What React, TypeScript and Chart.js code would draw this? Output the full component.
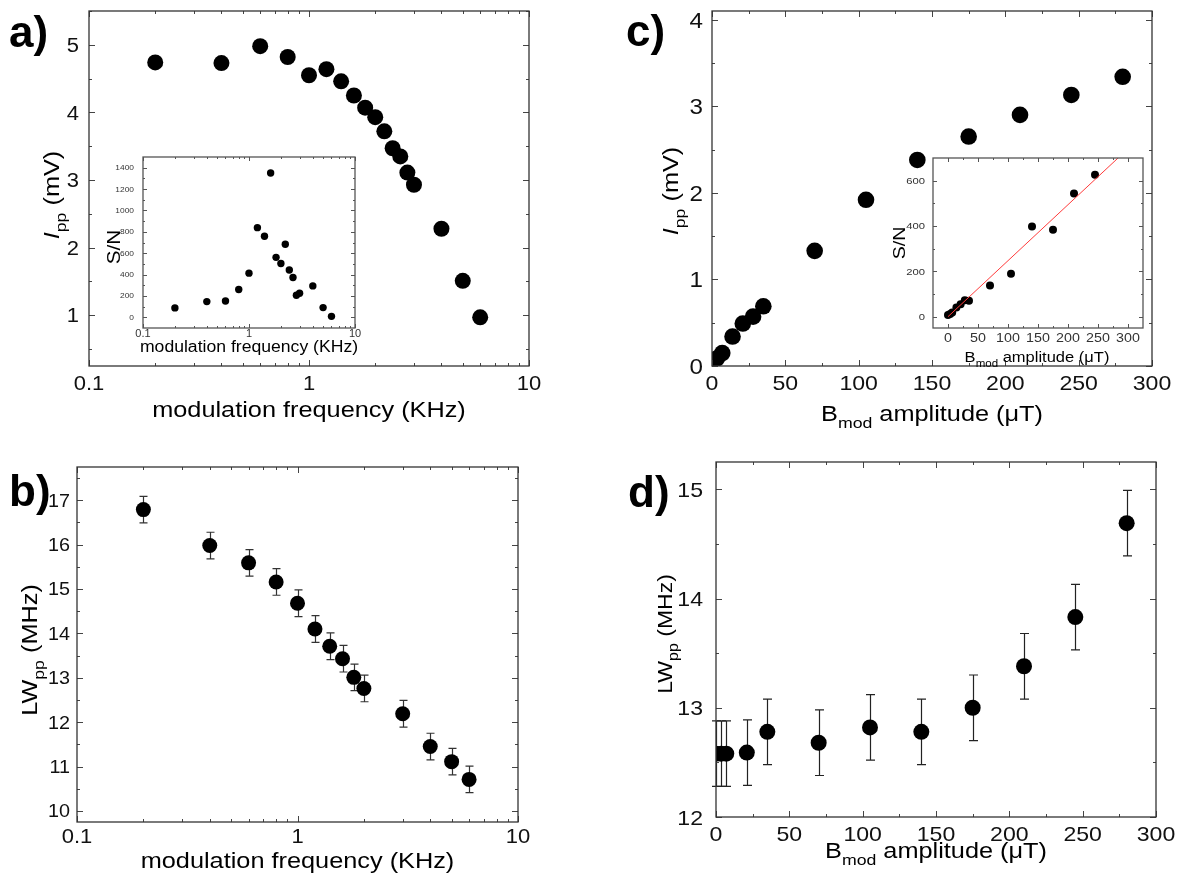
import React, { useEffect, useRef } from 'react';
import { Chart, registerables } from 'chart.js';
Chart.register(...registerables);

// ---------------- data ----------------
// panel a: peak-to-peak intensity vs modulation frequency
const freqKHz = [0.2, 0.4, 0.6, 0.8, 1.0, 1.2, 1.4, 1.6, 1.8, 2.0, 2.2, 2.4, 2.6, 2.8, 3.0, 4, 5, 6];
const ippVsFreq = [4.74, 4.73, 4.98, 4.82, 4.55, 4.64, 4.46, 4.25, 4.07, 3.93, 3.72, 3.47, 3.35, 3.11, 2.93, 2.28, 1.51, 0.97];
// panel a inset: S/N vs modulation frequency
const snVsFreq = [88, 147, 153, 260, 413, 839, 758, 1350, 561, 504, 683, 442, 373, 207, 225, 294, 91, 9];
// panel b: linewidth vs modulation frequency
const lwFreqKHz = [0.2, 0.4, 0.6, 0.8, 1.0, 1.2, 1.4, 1.6, 1.8, 2.0, 3.0, 4, 5, 6];
const lwVsFreq = [16.79, 15.98, 15.59, 15.16, 14.68, 14.1, 13.71, 13.43, 13.01, 12.76, 12.19, 11.45, 11.11, 10.71];
const lwVsFreqErr = [0.3, 0.3, 0.3, 0.3, 0.3, 0.3, 0.3, 0.3, 0.3, 0.3, 0.3, 0.3, 0.3, 0.3];
// panel c: intensity vs B_mod amplitude
const bmodC = [0, 3.5, 7, 14, 21, 28, 35, 70, 105, 140, 175, 210, 245, 280];
const ippVsBmod = [0.03, 0.09, 0.15, 0.34, 0.49, 0.57, 0.69, 1.33, 1.92, 2.38, 2.65, 2.9, 3.13, 3.34];
// panel c inset: S/N vs B_mod amplitude + linear fit
const bmodSN = [0, 3.5, 7, 14, 21, 28, 35, 70, 105, 140, 175, 210, 245];
const snVsBmod = [7, 12, 18, 40, 55, 72, 70, 138, 189, 398, 383, 543, 626];
const fitX = [0, 300];
const fitY = [0, 741];
// panel d: linewidth vs B_mod amplitude
const bmodD = [0, 3.5, 7, 21, 35, 70, 105, 140, 175, 210, 245, 280];
const lwVsBmod = [12.58, 12.58, 12.58, 12.59, 12.78, 12.68, 12.82, 12.78, 13.0, 13.38, 13.83, 14.69];
const lwVsBmodErr = [0.3, 0.3, 0.3, 0.3, 0.3, 0.3, 0.3, 0.3, 0.3, 0.3, 0.3, 0.3];

// tick values
const logMajor = [0.1, 1, 10];
const logMinor = [0.2, 0.3, 0.4, 0.5, 0.6, 0.7, 0.8, 0.9, 2, 3, 4, 5, 6, 7, 8, 9];
const aYMajor = [1, 2, 3, 4, 5];
const aYMinor = [0.5, 1.5, 2.5, 3.5, 4.5, 5.5];
const aInsetYMajor = [0, 200, 400, 600, 800, 1000, 1200, 1400];
const aInsetYMinor = [100, 300, 500, 700, 900, 1100, 1300];
const bYMajor = [10, 11, 12, 13, 14, 15, 16, 17];
const bYMinor = [10.5, 11.5, 12.5, 13.5, 14.5, 15.5, 16.5, 17.5];
const bmodMajor = [0, 50, 100, 150, 200, 250, 300];
const bmodMinor = [25, 75, 125, 175, 225, 275];
const cYMajor = [0, 1, 2, 3, 4];
const cYMinor = [0.5, 1.5, 2.5, 3.5];
const cInsetYMajor = [0, 200, 400, 600];
const cInsetYMinor = [100, 300, 500];
const dYMajor = [12, 13, 14, 15];
const dYMinor = [12.5, 13.5, 14.5];

// ---------------- drawing helpers ----------------
const PW = 1179;
const PH = 879;
const FONT = "'Liberation Sans', Arial, Helvetica, sans-serif";

type Seg = { t: string; it?: boolean; sub?: boolean; bold?: boolean };
type TextSpec = { segs: Seg[]; size: number; x: number; y: number; rotate?: boolean; align?: 'left' | 'center'; stretch?: number; color?: string };
type AxisSpec = {
  type: 'linear' | 'logarithmic';
  min: number; max: number;
  major: number[]; minor: number[];
  font: number; pos: number; color: string; stretch: number;
};
type ErrSpec = { xs: number[]; ys: number[]; err: number[]; cap: number; color: string; width: number };
type PanelSpec = {
  plot: [number, number, number, number];
  x: AxisSpec; y: AxisSpec;
  datasets: any[];
  errors?: ErrSpec;
  texts: TextSpec[];
  fill?: boolean;
  frame: string; tickColor: string; majorLen: number; minorLen: number;
};

const segFont = (s: Seg, size: number) =>
  `${s.it ? 'italic ' : ''}${s.bold ? 'bold ' : ''}${s.sub ? size * 0.7 : size}px ${FONT}`;

function drawRich(ctx: CanvasRenderingContext2D, t: TextSpec) {
  ctx.save();
  const widths: number[] = [];
  let w = 0;
  for (const s of t.segs) {
    ctx.font = segFont(s, t.size);
    const m = ctx.measureText(s.t).width;
    widths.push(m);
    w += m;
  }
  ctx.translate(t.x, t.y);
  if (t.rotate) ctx.rotate(-Math.PI / 2);
  ctx.scale(t.stretch ?? 1.15, 1);
  let cur = t.align === 'left' ? 0 : -w / 2;
  ctx.fillStyle = t.color ?? '#000';
  ctx.textBaseline = 'alphabetic';
  ctx.textAlign = 'left';
  t.segs.forEach((s, i) => {
    ctx.font = segFont(s, t.size);
    ctx.fillText(s.t, cur, s.sub ? t.size * 0.3 : 0);
    cur += widths[i];
  });
  ctx.restore();
}

function drawLabel(ctx: CanvasRenderingContext2D, text: string, x: number, y: number, size: number, align: 'center' | 'right', stretch: number, color: string) {
  ctx.save();
  ctx.font = `${size}px ${FONT}`;
  const w = ctx.measureText(text).width * stretch;
  ctx.translate(align === 'right' ? x - w : x - w / 2, y);
  ctx.scale(stretch, 1);
  ctx.fillStyle = color;
  ctx.textAlign = 'left';
  ctx.textBaseline = 'alphabetic';
  ctx.fillText(text, 0, 0);
  ctx.restore();
}

function makePlugin(spec: PanelSpec) {
  return {
    id: 'panelDeco',
    beforeDraw(chart: any) {
      if (!spec.fill) return;
      const a = chart.chartArea;
      const ctx = chart.ctx;
      ctx.save();
      ctx.fillStyle = '#fff';
      ctx.fillRect(a.left, a.top, a.right - a.left, a.bottom - a.top);
      ctx.restore();
    },
    beforeDatasetsDraw(chart: any) {
      const e = spec.errors;
      if (!e) return;
      const xs = chart.scales.x;
      const ys = chart.scales.y;
      const ctx = chart.ctx;
      ctx.save();
      ctx.strokeStyle = e.color;
      ctx.lineWidth = e.width;
      e.xs.forEach((xv, i) => {
        const px = Math.round(xs.getPixelForValue(xv)) + 0.5;
        const p1 = ys.getPixelForValue(e.ys[i] + e.err[i]);
        const p2 = ys.getPixelForValue(e.ys[i] - e.err[i]);
        ctx.beginPath();
        ctx.moveTo(px, p1); ctx.lineTo(px, p2);
        ctx.moveTo(px - e.cap, p1); ctx.lineTo(px + e.cap, p1);
        ctx.moveTo(px - e.cap, p2); ctx.lineTo(px + e.cap, p2);
        ctx.stroke();
      });
      ctx.restore();
    },
    afterDraw(chart: any) {
      const ctx: CanvasRenderingContext2D = chart.ctx;
      const a = chart.chartArea;
      const xs = chart.scales.x;
      const ys = chart.scales.y;
      ctx.save();
      // ticks, inward on all four sides
      ctx.strokeStyle = spec.tickColor;
      ctx.lineWidth = 1;
      ctx.beginPath();
      const xt = (vals: number[], len: number) => vals.forEach(v => {
        const px = Math.round(xs.getPixelForValue(v)) + 0.5;
        ctx.moveTo(px, a.bottom); ctx.lineTo(px, a.bottom - len);
        ctx.moveTo(px, a.top); ctx.lineTo(px, a.top + len);
      });
      const yt = (vals: number[], len: number) => vals.forEach(v => {
        const py = Math.round(ys.getPixelForValue(v)) + 0.5;
        ctx.moveTo(a.left, py); ctx.lineTo(a.left + len, py);
        ctx.moveTo(a.right, py); ctx.lineTo(a.right - len, py);
      });
      xt(spec.x.major, spec.majorLen);
      xt(spec.x.minor, spec.minorLen);
      yt(spec.y.major, spec.majorLen);
      yt(spec.y.minor, spec.minorLen);
      ctx.stroke();
      // frame
      ctx.strokeStyle = spec.frame;
      ctx.lineWidth = 1.3;
      ctx.strokeRect(a.left, a.top, a.right - a.left, a.bottom - a.top);
      ctx.restore();
      // tick labels from the scales' ticks
      xs.ticks.forEach((t: any) => {
        drawLabel(ctx, String(t.value), xs.getPixelForValue(t.value), spec.x.pos, spec.x.font, 'center', spec.x.stretch, spec.x.color);
      });
      ys.ticks.forEach((t: any) => {
        const py = ys.getPixelForValue(t.value) + spec.y.font * 0.358;
        drawLabel(ctx, String(t.value), spec.y.pos, py, spec.y.font, 'right', spec.y.stretch, spec.y.color);
      });
      spec.texts.forEach(t => drawRich(ctx, t));
    },
  };
}

function axisOpts(ax: AxisSpec) {
  return {
    type: ax.type,
    min: ax.min,
    max: ax.max,
    bounds: 'data',
    grid: { display: false, drawTicks: false, tickLength: 0 },
    border: { display: false },
    ticks: { display: false, padding: 0 },
    title: { display: false },
    afterBuildTicks: (s: any) => { s.ticks = ax.major.map(v => ({ value: v })); },
    afterFit: (s: any) => {
      if (s.isHorizontal()) s.height = 0; else s.width = 0;
      s.paddingLeft = 0; s.paddingRight = 0; s.paddingTop = 0; s.paddingBottom = 0;
    },
  };
}

function scatterSet(xs: number[], ys: number[], r: number) {
  return {
    type: 'scatter',
    data: xs.map((x, i) => ({ x, y: ys[i] })),
    pointRadius: r,
    pointBackgroundColor: '#000',
    pointBorderWidth: 0,
    showLine: false,
    clip: 0,
  };
}

function makeConfig(spec: PanelSpec): any {
  const [L, T, R, B] = spec.plot;
  return {
    type: 'scatter',
    data: { datasets: spec.datasets },
    options: {
      responsive: false,
      maintainAspectRatio: false,
      animation: false,
      devicePixelRatio: 1,
      events: [],
      layout: { padding: { left: L, top: T, right: PW - R, bottom: PH - B } },
      plugins: { legend: { display: false }, tooltip: { enabled: false } },
      scales: { x: axisOpts(spec.x), y: axisOpts(spec.y) },
    },
    plugins: [makePlugin(spec)],
  };
}

// ---------------- panel specs ----------------
const I_PP: Seg[] = [{ t: 'I', it: true }, { t: 'pp', sub: true }, { t: ' (mV)' }];
const LW_PP: Seg[] = [{ t: 'LW' }, { t: 'pp', sub: true }, { t: ' (MHz)' }];
const B_MOD: Seg[] = [{ t: 'B' }, { t: 'mod', sub: true }, { t: ' amplitude (μT)' }];
const FREQ: Seg[] = [{ t: 'modulation frequency (KHz)' }];
const SN: Seg[] = [{ t: 'S/N' }];

const mainAxis = { color: '#111', stretch: 1.1 };

const panelA: PanelSpec = {
  plot: [89, 11, 529, 366],
  x: { type: 'logarithmic', min: 0.1, max: 10, major: logMajor, minor: logMinor, font: 20, pos: 390, ...mainAxis },
  y: { type: 'linear', min: 0.25, max: 5.5, major: aYMajor, minor: aYMinor, font: 20, pos: 79, ...mainAxis },
  datasets: [scatterSet(freqKHz, ippVsFreq, 8)],
  texts: [
    { segs: FREQ, size: 22, x: 309, y: 417 },
    { segs: I_PP, size: 22, x: 59, y: 195, rotate: true },
    { segs: [{ t: 'a)', bold: true }], size: 44, x: 9, y: 47, align: 'left', stretch: 1 },
  ],
  frame: '#333', tickColor: '#444', majorLen: 6, minorLen: 3,
};

const insetA: PanelSpec = {
  plot: [143, 157, 355, 328],
  x: { type: 'logarithmic', min: 0.1, max: 10, major: logMajor, minor: logMinor, font: 10, pos: 337, color: '#333', stretch: 1.1 },
  y: { type: 'linear', min: -100, max: 1500, major: aInsetYMajor, minor: aInsetYMinor, font: 7, pos: 134, color: '#333', stretch: 1.2 },
  datasets: [scatterSet(freqKHz, snVsFreq, 3.7)],
  texts: [
    { segs: FREQ, size: 16, x: 249, y: 352, stretch: 1.1 },
    { segs: SN, size: 18, x: 120, y: 247, rotate: true },
  ],
  fill: true,
  frame: '#555', tickColor: '#555', majorLen: 4, minorLen: 2,
};

const panelB: PanelSpec = {
  plot: [77, 467, 518, 822],
  x: { type: 'logarithmic', min: 0.1, max: 10, major: logMajor, minor: logMinor, font: 20, pos: 843, ...mainAxis },
  y: { type: 'linear', min: 9.75, max: 17.75, major: bYMajor, minor: bYMinor, font: 18, pos: 70, ...mainAxis },
  datasets: [scatterSet(lwFreqKHz, lwVsFreq, 7.5)],
  errors: { xs: lwFreqKHz, ys: lwVsFreq, err: lwVsFreqErr, cap: 4, color: '#333', width: 1.2 },
  texts: [
    { segs: FREQ, size: 22, x: 297.5, y: 868 },
    { segs: LW_PP, size: 22, x: 37, y: 650, rotate: true },
    { segs: [{ t: 'b)', bold: true }], size: 44, x: 9, y: 506, align: 'left', stretch: 1 },
  ],
  frame: '#333', tickColor: '#444', majorLen: 6, minorLen: 3,
};

const panelC: PanelSpec = {
  plot: [712, 11, 1152, 366],
  x: { type: 'linear', min: 0, max: 300, major: bmodMajor, minor: bmodMinor, font: 21, pos: 390, ...mainAxis },
  y: { type: 'linear', min: 0, max: 4.1, major: cYMajor, minor: cYMinor, font: 22, pos: 703, ...mainAxis },
  datasets: [scatterSet(bmodC, ippVsBmod, 8.3)],
  texts: [
    { segs: B_MOD, size: 22, x: 932, y: 421 },
    { segs: I_PP, size: 22, x: 678, y: 191, rotate: true },
    { segs: [{ t: 'c)', bold: true }], size: 44, x: 626, y: 46, align: 'left', stretch: 1 },
  ],
  frame: '#333', tickColor: '#444', majorLen: 6, minorLen: 3,
};

const insetC: PanelSpec = {
  plot: [933, 158, 1143, 328],
  x: { type: 'linear', min: -25, max: 325, major: bmodMajor, minor: bmodMinor, font: 13, pos: 342, color: '#333', stretch: 1.1 },
  y: { type: 'linear', min: -50, max: 700, major: cInsetYMajor, minor: cInsetYMinor, font: 9, pos: 925, color: '#333', stretch: 1.25 },
  datasets: [
    {
      type: 'line',
      data: fitX.map((x, i) => ({ x, y: fitY[i] })),
      borderColor: '#ff3b3b',
      borderWidth: 1,
      pointRadius: 0,
      fill: false,
      showLine: true,
      clip: 0,
    },
    scatterSet(bmodSN, snVsBmod, 4),
  ],
  texts: [
    { segs: B_MOD, size: 15, x: 1037, y: 362, stretch: 1.1 },
    { segs: SN, size: 17, x: 905, y: 243, rotate: true },
  ],
  fill: true,
  frame: '#555', tickColor: '#555', majorLen: 4, minorLen: 2,
};

const panelD: PanelSpec = {
  plot: [716, 462, 1156, 817],
  x: { type: 'linear', min: 0, max: 300, major: bmodMajor, minor: bmodMinor, font: 21, pos: 841, ...mainAxis },
  y: { type: 'linear', min: 12, max: 15.25, major: dYMajor, minor: dYMinor, font: 21, pos: 703, ...mainAxis },
  datasets: [scatterSet(bmodD, lwVsBmod, 8)],
  errors: { xs: bmodD, ys: lwVsBmod, err: lwVsBmodErr, cap: 4.5, color: '#222', width: 1.2 },
  texts: [
    { segs: B_MOD, size: 22, x: 936, y: 858 },
    { segs: LW_PP, size: 20, x: 672, y: 634, rotate: true },
    { segs: [{ t: 'd)', bold: true }], size: 44, x: 628, y: 507, align: 'left', stretch: 1 },
  ],
  frame: '#333', tickColor: '#444', majorLen: 6, minorLen: 3,
};

// ---------------- components ----------------
function PanelCanvas({ spec }: { spec: PanelSpec }) {
  const ref = useRef<HTMLCanvasElement | null>(null);
  useEffect(() => {
    if (!ref.current) return;
    const chart = new Chart(ref.current, makeConfig(spec));
    return () => chart.destroy();
  }, [spec]);
  return (
    <canvas
      ref={ref}
      width={PW}
      height={PH}
      style={{ position: 'absolute', left: 0, top: 0, width: PW, height: PH }}
    />
  );
}

export default function App() {
  return (
    <div style={{ position: 'absolute', left: 0, top: 0, width: PW, height: PH, background: '#fff', overflow: 'hidden' }}>
      <PanelCanvas spec={panelA} />
      <PanelCanvas spec={insetA} />
      <PanelCanvas spec={panelB} />
      <PanelCanvas spec={panelC} />
      <PanelCanvas spec={insetC} />
      <PanelCanvas spec={panelD} />
    </div>
  );
}
